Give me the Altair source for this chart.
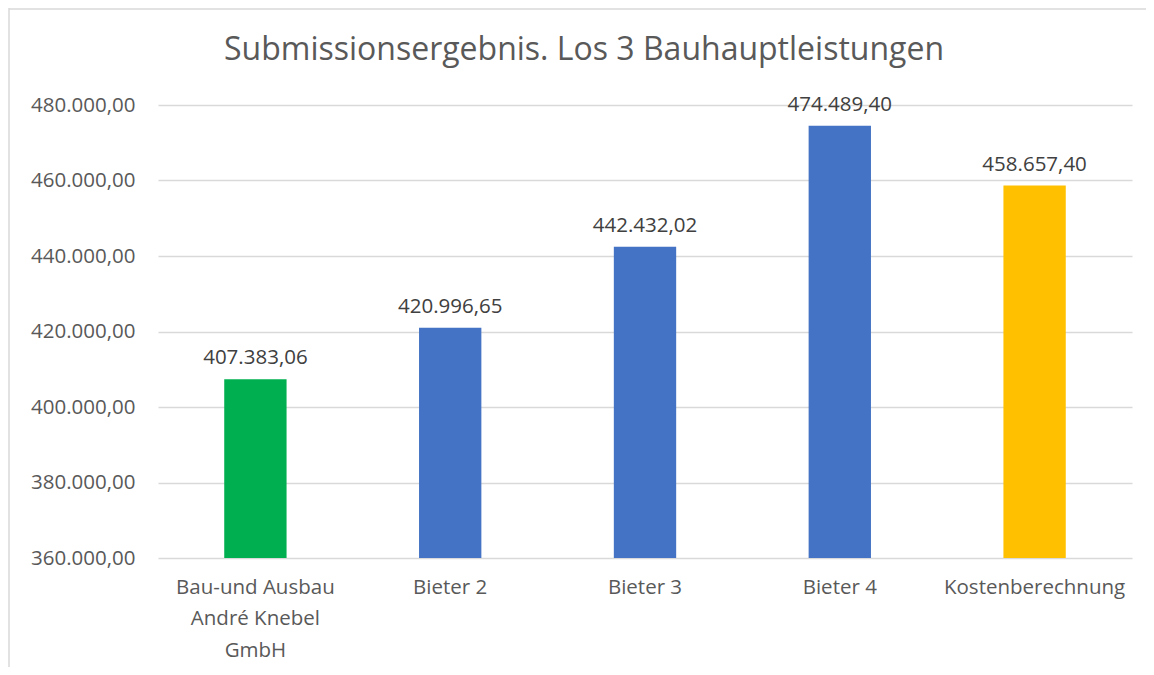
import altair as alt
import pandas as pd

categories = ["Bau-und Ausbau André Knebel GmbH", "Bieter 2", "Bieter 3", "Bieter 4", "Kostenberechnung"]
values = [407383.06, 420996.65, 442432.02, 474489.40, 458657.40]
colors = ["#00B050", "#4472C4", "#4472C4", "#4472C4", "#FFC000"]
y_ticks = [360000, 380000, 400000, 420000, 440000, 460000, 480000]
title_text = "Submissionsergebnis. Los 3 Bauhauptleistungen"

df = pd.DataFrame({"cat": categories, "value": values, "color": colors})

FONT = "Open Sans"
W, H = 974, 453

x_enc = alt.X(
    "cat:N",
    sort=categories,
    title=None,
    scale=alt.Scale(paddingInner=0.68, paddingOuter=0.34),
    axis=alt.Axis(
        labelAngle=0,
        domain=False,
        ticks=False,
        labelPadding=19,
        labelFontSize=20.5,
        labelColor="#595959",
        labelFont=FONT,
        labelLineHeight=31.5,
        labelLimit=300,
        labelExpr="datum.label == 'Bau-und Ausbau André Knebel GmbH' ? ['Bau-und Ausbau', 'André Knebel', 'GmbH'] : datum.label",
    ),
)
y_enc = alt.Y(
    "value:Q",
    title=None,
    scale=alt.Scale(domain=[360000, 480000], zero=False, nice=False),
    axis=alt.Axis(
        values=y_ticks,
        format=",.2f",
        domain=False,
        ticks=False,
        labelPadding=23,
        labelFontSize=20.5,
        labelColor="#595959",
        labelFont=FONT,
        gridColor="#d9d9d9",
        gridWidth=1.4,
    ),
)

base = alt.Chart(df)

bars = base.mark_bar(clip=True).encode(
    x=x_enc,
    y=y_enc,
    color=alt.Color("color:N", scale=None, legend=None),
)

labels = base.mark_text(
    baseline="bottom", dy=-11, fontSize=20.5, font=FONT, color="#404040"
).encode(
    x=alt.X("cat:N", sort=categories),
    y=alt.Y("value:Q"),
    text=alt.Text("value:Q", format=",.2f"),
)

one = pd.DataFrame({"a": [0]})

title_mark = alt.Chart(one).mark_text(
    align="center", baseline="middle", fontSize=32, font=FONT, color="#595959"
).encode(
    x=alt.value(426), y=alt.value(-55), text=alt.value(title_text)
)

border_left = alt.Chart(one).mark_rule(color="#d9d9d9", strokeWidth=1.5).encode(
    x=alt.value(-149), y=alt.value(-97), y2=alt.value(H + 120)
)
border_top = alt.Chart(one).mark_rule(color="#d9d9d9", strokeWidth=1.5).encode(
    x=alt.value(-149), x2=alt.value(W + 40), y=alt.value(-96)
)

chart = alt.layer(bars, labels, title_mark, border_left, border_top).properties(
    width=W,
    height=H,
    padding={"left": 150, "top": 97, "right": 14, "bottom": 109},
    autosize=alt.AutoSizeParams(type="none"),
).configure(
    locale={"number": {"decimal": ",", "thousands": ".", "grouping": [3], "currency": ["", " €"]}}
).configure_view(stroke=None)

chart.save("out.html", embed_options={"renderer": "svg", "actions": False})
